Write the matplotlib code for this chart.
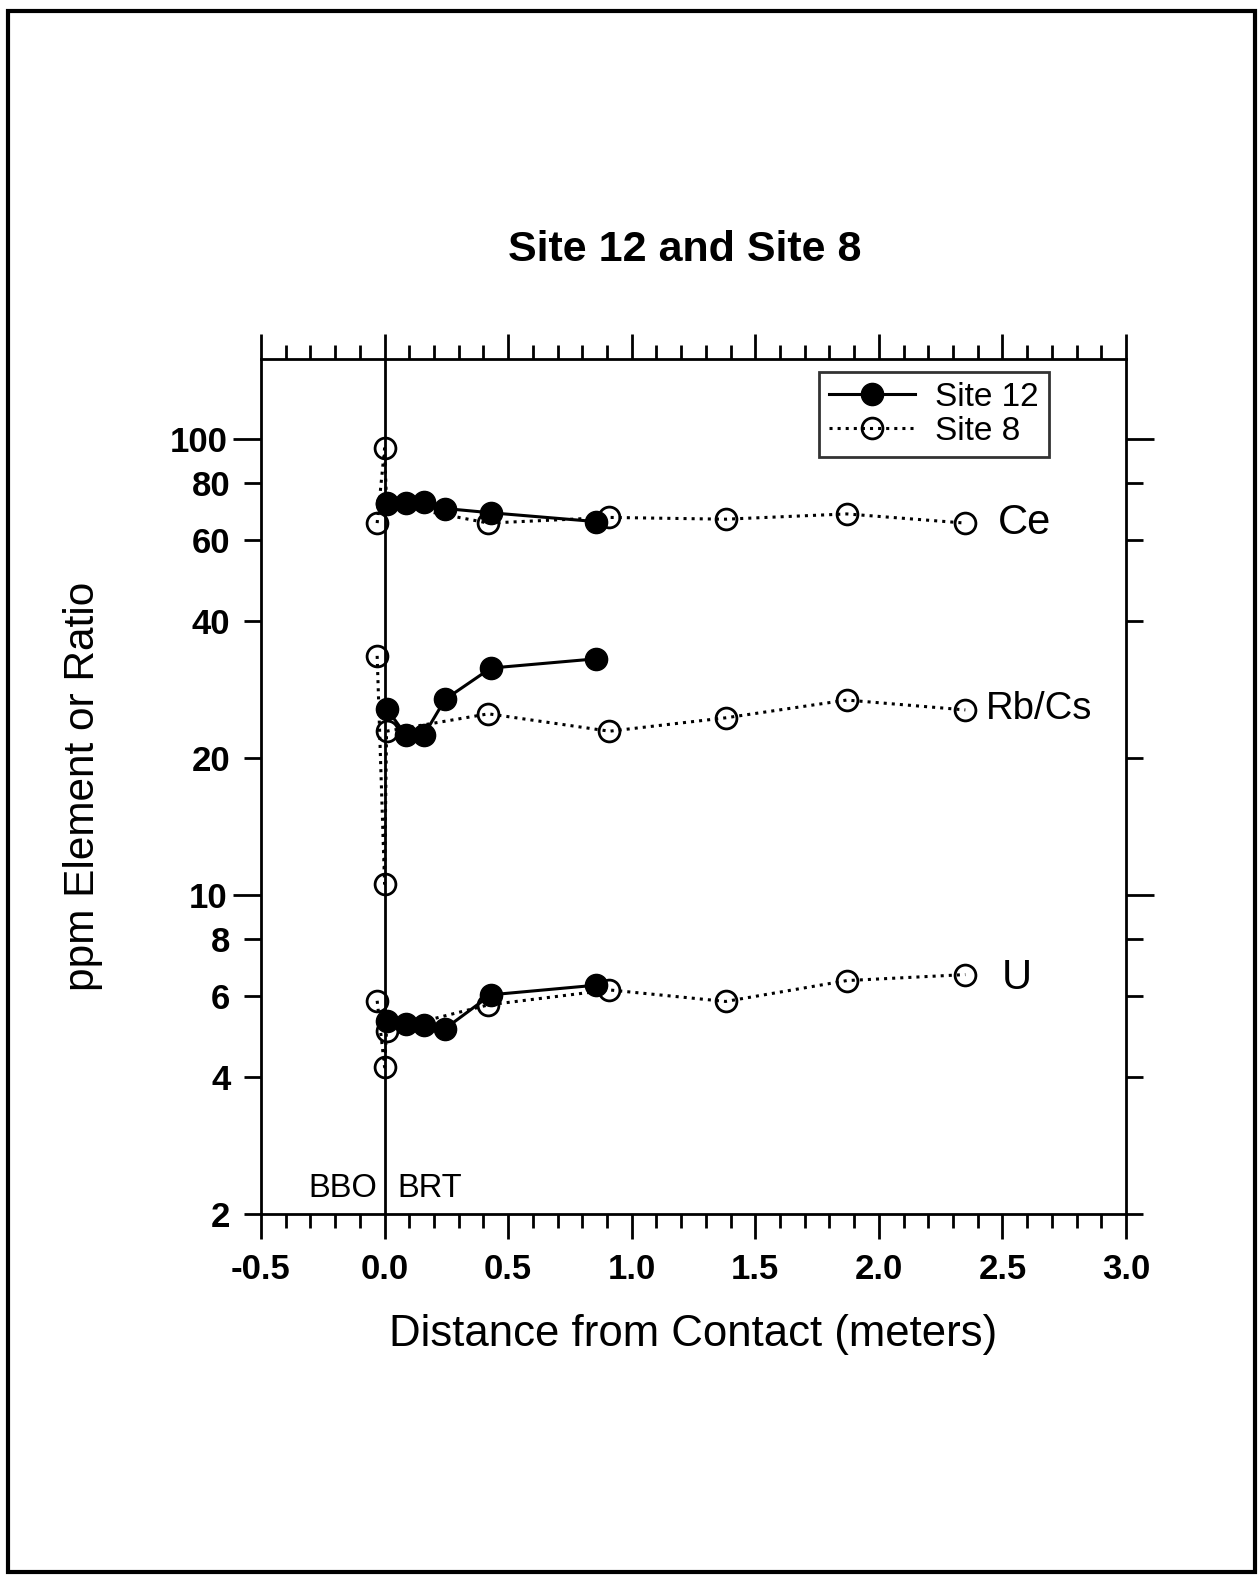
import numpy as np
import matplotlib.pyplot as plt
from matplotlib.patches import Rectangle
from matplotlib.ticker import FixedLocator, FixedFormatter, MultipleLocator

plt.rcParams['font.family'] = ['Liberation Sans', 'DejaVu Sans']

# Site 12 (filled symbols, solid line)
x12 = [0.01, 0.085, 0.16, 0.245, 0.43, 0.855]
ce12 = [72.5, 72.5, 72.8, 70.5, 69.0, 66.0]
rbcs12 = [25.6, 22.5, 22.5, 26.9, 31.5, 33.0]
u12 = [5.3, 5.22, 5.2, 5.1, 6.05, 6.35]

# Site 8 (open symbols, dotted line)
x8 = [-0.03, 0.0, 0.008, 0.42, 0.91, 1.38, 1.87, 2.35]
ce8 = [65.5, 95.5, 72.3, 65.5, 67.4, 66.8, 68.6, 65.5]
rbcs8 = [33.5, 10.6, 22.9, 25.0, 22.9, 24.5, 26.8, 25.5]
u8 = [5.87, 4.2, 5.05, 5.75, 6.2, 5.85, 6.5, 6.7]

element_names = ['Ce', 'Rb/Cs', 'U']
name_x = [2.59, 2.65, 2.56]
name_y = [65.5, 25.6, 6.6]
name_size = [30, 27.5, 30]

yticks_major = [10, 100]
yticks_minor = [2, 4, 6, 8, 20, 40, 60, 80]

fig = plt.figure(figsize=(12.6, 15.75), dpi=100)
fig.patches.append(Rectangle((0.006, 0.002), 0.99, 0.991, transform=fig.transFigure,
                             fill=False, edgecolor='black', lw=3))

ax = fig.add_axes([261/1260, 1 - 1214/1575, (1126-261)/1260, (1214-359)/1575])

ax.axvline(0.0, color='black', lw=2, zorder=1)

first = True
for y12, y8 in [(ce12, ce8), (rbcs12, rbcs8), (u12, u8)]:
    ax.plot(x8, y8, linestyle=':', color='black', lw=2.2, marker='o', markersize=15,
            markerfacecolor='none', markeredgecolor='black', markeredgewidth=2,
            label='Site 8' if first else None, zorder=2)
    ax.plot(x12, y12, linestyle='-', color='black', lw=2.2, marker='o', markersize=16,
            markerfacecolor='black', markeredgecolor='black',
            label='Site 12' if first else None, zorder=3)
    first = False

for nm, nx, ny, ns in zip(element_names, name_x, name_y, name_size):
    ax.text(nx, ny, nm, fontsize=ns, ha='center', va='center')

ax.text(-0.03, 2.27, 'BBO', fontsize=23.5, ha='right', va='center')
ax.text(0.05, 2.27, 'BRT', fontsize=23.5, ha='left', va='center')

ax.set_yscale('log')
ax.set_ylim(2, 150)
ax.set_xlim(-0.5, 3.0)

ax.yaxis.set_major_locator(FixedLocator(yticks_major))
ax.yaxis.set_major_formatter(FixedFormatter([str(v) for v in yticks_major]))
ax.yaxis.set_minor_locator(FixedLocator(yticks_minor))
ax.yaxis.set_minor_formatter(FixedFormatter([str(v) for v in yticks_minor]))
ax.xaxis.set_major_locator(MultipleLocator(0.5))
ax.xaxis.set_minor_locator(MultipleLocator(0.1))
ax.set_xticklabels([f'{v:.1f}' for v in ax.get_xticks()])

ax.tick_params(axis='y', which='major', direction='out', length=20, width=2, pad=4,
               labelsize=25, left=True, right=True)
ax.tick_params(axis='y', which='minor', direction='out', length=12, width=2, pad=10,
               labelsize=25, left=True, right=True)
ax.tick_params(axis='x', which='major', direction='out', length=18, width=2, pad=10,
               labelsize=25, bottom=True, top=True)
ax.tick_params(axis='x', which='minor', direction='out', length=10, width=2,
               bottom=True, top=True)
for lab in ax.get_xticklabels() + ax.get_yticklabels() + ax.get_yticklabels(minor=True):
    lab.set_fontweight('bold')

for sp in ax.spines.values():
    sp.set_linewidth(2)

ax.set_xlabel('Distance from Contact (meters)', fontsize=31.5, labelpad=20)
ax.set_ylabel('ppm Element or Ratio', fontsize=30.5, labelpad=48)
fig.text(685/1260, 1 - 250/1575, 'Site 12 and Site 8', fontsize=31, fontweight='bold',
         ha='center', va='center')

handles, labels = ax.get_legend_handles_labels()
order = [labels.index('Site 12'), labels.index('Site 8')]
leg = ax.legend([handles[i] for i in order], [labels[i] for i in order],
                loc='upper right', bbox_to_anchor=(0.911, 0.985), borderaxespad=0,
                fontsize=24, frameon=True, fancybox=False, edgecolor='black',
                handlelength=2.6, handletextpad=0.6, labelspacing=0.1, borderpad=0.3)
leg.get_frame().set_linewidth(2)

fig.savefig('out.png', dpi=100, facecolor='white')
